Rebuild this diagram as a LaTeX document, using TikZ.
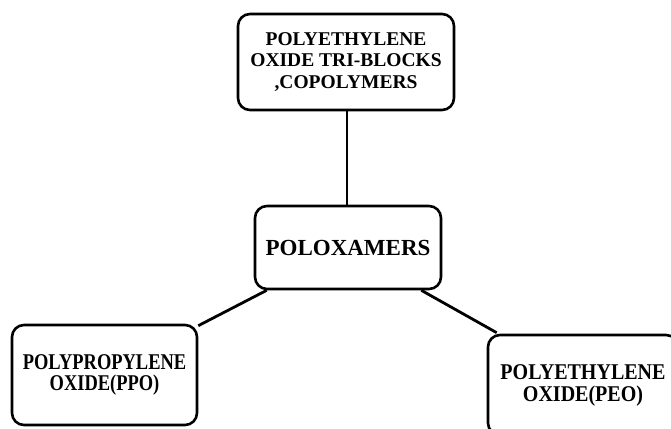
\documentclass[tikz,border=0pt]{standalone}
\usepackage{fontspec}
\setmainfont{Liberation Serif}
\newfontfamily\condfont[FakeStretch=0.82]{Liberation Serif}
\newfontfamily\condfontb[FakeStretch=0.89]{Liberation Serif}
\usetikzlibrary{calc}
\tikzset{
  box/.style={draw=black, line width=2.6pt, rounded corners=12pt, fill=white,
    inner sep=0pt, align=center, anchor=center},
  link/.style={draw=black, line width=2.8pt}
}
\begin{document}
\begin{tikzpicture}[x=1pt,y=-1pt]
\useasboundingbox (0,0) rectangle (671,428);
\clip (0,0) rectangle (671,428);
\node[box, minimum width=216pt, minimum height=96pt,
  font=\bfseries\fontsize{19.5}{21.5}\selectfont] (top) at (346,62)
  {POLYETHYLENE\\OXIDE TRI-BLOCKS\\,COPOLYMERS};
\node[box, minimum width=186pt, minimum height=83pt,
  font=\bfseries\fontsize{23}{25}\selectfont] (mid) at (348,247.5) {POLOXAMERS};
\node[box, minimum width=185pt, minimum height=100pt,
  font=\condfont\bfseries\fontsize{22.5}{21}\selectfont] (left) at (104.5,375)
  {POLYPROPYLENE\\OXIDE(PPO)};
\node[box, minimum width=190pt, minimum height=100pt,
  font=\condfontb\bfseries\fontsize{22.5}{22}\selectfont] (right) at (583,385)
  {POLYETHYLENE\\OXIDE(PEO)};
\draw[link] (top.south -| 347,0) -- (mid.north -| 347,0);
\draw[link] ($(mid.south west)+(13,0)$) -- ($(left.north east)+(0,2)$);
\draw[link] ($(mid.south east)+(-21,0)$) -- ($(right.north west)+(10,-1)$);
\end{tikzpicture}
\end{document}
